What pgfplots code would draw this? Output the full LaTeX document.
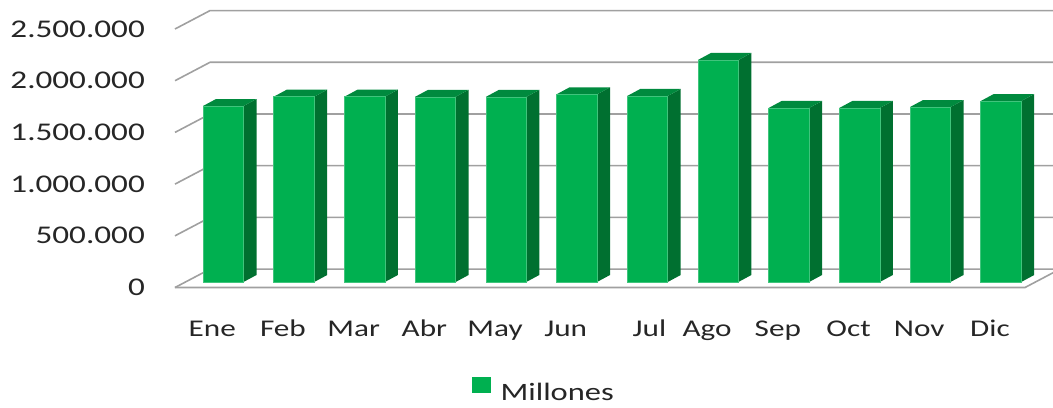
\documentclass[border=0pt]{standalone}
\usepackage{pgfplots}
\pgfplotsset{compat=1.18}
\usepackage{pgfplotstable}
\usepackage{fontspec}
\setmainfont{Carlito}[FakeStretch=1.3]
\definecolor{barfront}{RGB}{0,176,80}
\definecolor{bartop}{RGB}{0,138,62}
\definecolor{barside}{RGB}{0,112,48}
\definecolor{gridc}{RGB}{160,160,160}
\definecolor{txt}{RGB}{38,38,38}

\pgfplotstableread{
i v
0 1702
1 1792
2 1792
3 1791
4 1790
5 1815
6 1799
7 2147
8 1683
9 1683
10 1692
11 1750
}\data

\begin{document}
\begin{tikzpicture}
\begin{axis}[
  scale only axis, width=1053pt, height=407pt,
  xmin=-3.0021, xmax=11.8918, ymin=-1155.7, ymax=2780.5,
  axis line style={draw=none}, clip=false,
  major tick length=0pt, no markers,
  ytick={0,500,1000,1500,2000,2500},
  yticklabels={0,500.000,1.000.000,1.500.000,2.000.000,2.500.000},
  yticklabel style={anchor=east, xshift=145pt, inner sep=0pt, font=\fontsize{25.5}{28}\selectfont, text=txt},
  xtick={0,1,2,3,4,5,6,7,8,9,10,11},
  xticklabels={Ene,Feb,Mar,Abr,May,Jun,\hspace*{26pt}Jul,Ago,Sep,Oct,Nov,Dic},
  xticklabel style={anchor=base, yshift=71pt, inner sep=0pt, font=\fontsize{24}{28}\selectfont, text=txt},
  legend style={at={(0.5157,0.013)}, anchor=south, draw=none, fill=none, inner sep=0pt,
    nodes={inner sep=0pt}, font=\fontsize{25}{28}\selectfont, text=txt},
]
% back wall / left wall gridlines
\pgfplotsinvokeforeach{0,500,1000,1500,2000,2500}{
  \draw[gridc, line width=1.6pt] (-0.5269,#1) -- (-0.0318,#1+178) -- (12.2,#1+178);
}
% floor front edge
\draw[gridc, line width=1.6pt] (-0.5269,0) -- (11.4958,0) -- (11.99,178);

\pgfplotsinvokeforeach{0,1,2,3,4,5,6,7,8,9,10,11}{
  \pgfplotstablegetelem{#1}{v}\of\data
  \pgfmathsetmacro\vt{\pgfplotsretval+53.2}
  \pgfmathsetmacro\vtt{\vt+67.7}
  \pgfmathsetmacro\xl{#1-0.1308}
  \pgfmathsetmacro\xr{#1+0.4420}
  \pgfmathsetmacro\xll{\xl+0.1839}
  \pgfmathsetmacro\xrr{\xr+0.1839}
  \edef\temp{%
    \noexpand\addplot[forget plot, draw=none, fill=barside] coordinates {(\xr,53.2) (\xrr,120.9) (\xrr,\vtt) (\xr,\vt)} -- cycle;
    \noexpand\addplot[forget plot, draw=none, fill=bartop] coordinates {(\xl,\vt) (\xr,\vt) (\xrr,\vtt) (\xll,\vtt)} -- cycle;
    \noexpand\addplot[forget plot, draw=barfront!75!white, line width=0.6pt, fill=barfront] coordinates {(\xl,53.2) (\xr,53.2) (\xr,\vt) (\xl,\vt)} -- cycle;
  }\temp
}
\addlegendimage{legend image code/.code={\fill[barfront] (0pt,0pt) rectangle (18pt,14.5pt); \path (28pt,0pt);}}
\addlegendentry{\raisebox{0pt}[\height][0pt]{Millones}}
\end{axis}
\pgfresetboundingbox
\path[use as bounding box] (current axis.south west) rectangle (current axis.north east);
\end{tikzpicture}
\end{document}
